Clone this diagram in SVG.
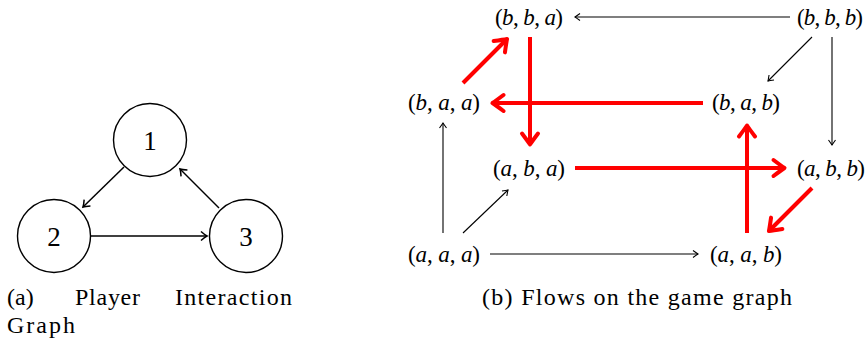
<svg xmlns="http://www.w3.org/2000/svg" width="868" height="341" viewBox="0 0 868 341">
<style>
text{font-family:"Liberation Serif","DejaVu Serif",serif;fill:#000}
.n{font-size:23px;text-anchor:middle}
.i{font-style:italic}
.d{font-size:27px;text-anchor:middle}
.cap{font-size:24px}
.node circle{fill:#fff;stroke:#000;stroke-width:1.4}
.k{stroke:#000;stroke-width:1.1;fill:none;marker-end:url(#ak)}
.k2{stroke:#000;stroke-width:1.5;fill:none;marker-end:url(#ak2)}
.r{stroke:#ff0000;stroke-width:4;fill:none;marker-end:url(#ar)}
</style>
<defs>
<marker id="ak" markerUnits="userSpaceOnUse" viewBox="-8 -6 10 12" markerWidth="10" markerHeight="12" refX="0" refY="0" orient="auto">
<path d="M-5,-3.5 Q-1.5,-1 0,0 Q-1.5,1 -5,3.5" fill="none" stroke="#000" stroke-width="1.1"/>
</marker>
<marker id="ak2" markerUnits="userSpaceOnUse" viewBox="-9 -7 11 14" markerWidth="11" markerHeight="14" refX="0" refY="0" orient="auto">
<path d="M-6,-4.5 Q-2,-1 0,0 Q-2,1 -6,4.5" fill="none" stroke="#000" stroke-width="1.5"/>
</marker>
<marker id="ar" markerUnits="userSpaceOnUse" viewBox="-15 -11 18 22" markerWidth="18" markerHeight="22" refX="-1.5" refY="0" orient="auto">
<path d="M-11,-8 Q-3,-2 0,0 Q-3,2 -11,8" fill="none" stroke="#ff0000" stroke-width="4" stroke-linecap="round" stroke-linejoin="round"/>
</marker>
</defs>

<!-- (a) Player interaction graph -->
<g id="connectors-a">
<line class="k2" x1="124" y1="167" x2="83" y2="207"/>
<line class="k2" x1="219" y1="208" x2="180" y2="169"/>
<line class="k2" x1="91" y1="236" x2="207" y2="236"/>
</g>
<g id="p1" class="node"><circle cx="150" cy="140" r="36.5"/><text class="d" x="150" y="149.5">1</text></g>
<g id="p2" class="node"><circle cx="54" cy="236" r="36.5"/><text class="d" x="54" y="245.5">2</text></g>
<g id="p3" class="node"><circle cx="246" cy="236" r="36.5"/><text class="d" x="246" y="245.5">3</text></g>
<g id="caption-a">
<text class="cap" x="7" y="305">(a)</text>
<text class="cap" x="75" y="305" textLength="65" lengthAdjust="spacing">Player</text>
<text class="cap" x="175" y="305" textLength="117" lengthAdjust="spacing">Interaction</text>
<text class="cap" x="7" y="333" textLength="68" lengthAdjust="spacing">Graph</text>
</g>

<!-- (b) Flows on the game graph -->
<g id="connectors-b">
<line class="k" x1="790" y1="17" x2="575" y2="17"/>
<line class="k" x1="812" y1="37" x2="768" y2="81"/>
<line class="k" x1="832" y1="37" x2="832" y2="145"/>
<line class="k" x1="443" y1="233" x2="443" y2="123"/>
<line class="k" x1="463" y1="233" x2="508" y2="190"/>
<line class="k" x1="490" y1="254" x2="698" y2="254"/>
<line class="r" x1="463" y1="83" x2="506" y2="40"/>
<line class="r" x1="703" y1="103" x2="494" y2="103"/>
<line class="r" x1="530" y1="37" x2="530" y2="143"/>
<line class="r" x1="575" y1="168" x2="783" y2="168"/>
<line class="r" x1="747" y1="233" x2="747" y2="127"/>
<line class="r" x1="812" y1="188" x2="770" y2="230"/>
</g>
<g id="bba"><text class="n" x="529" y="25" textLength="68" lengthAdjust="spacing">(<tspan class="i">b</tspan>, <tspan class="i">b</tspan>, <tspan class="i">a</tspan>)</text></g>
<g id="bbb"><text class="n" x="830" y="25" textLength="66" lengthAdjust="spacing">(<tspan class="i">b</tspan>, <tspan class="i">b</tspan>, <tspan class="i">b</tspan>)</text></g>
<g id="baa"><text class="n" x="444" y="110" textLength="72" lengthAdjust="spacing">(<tspan class="i">b</tspan>, <tspan class="i">a</tspan>, <tspan class="i">a</tspan>)</text></g>
<g id="bab"><text class="n" x="746" y="110" textLength="68" lengthAdjust="spacing">(<tspan class="i">b</tspan>, <tspan class="i">a</tspan>, <tspan class="i">b</tspan>)</text></g>
<g id="aba"><text class="n" x="529" y="176" textLength="72" lengthAdjust="spacing">(<tspan class="i">a</tspan>, <tspan class="i">b</tspan>, <tspan class="i">a</tspan>)</text></g>
<g id="abb"><text class="n" x="831" y="176" textLength="68" lengthAdjust="spacing">(<tspan class="i">a</tspan>, <tspan class="i">b</tspan>, <tspan class="i">b</tspan>)</text></g>
<g id="aaa"><text class="n" x="444" y="262" textLength="72" lengthAdjust="spacing">(<tspan class="i">a</tspan>, <tspan class="i">a</tspan>, <tspan class="i">a</tspan>)</text></g>
<g id="aab"><text class="n" x="746" y="262" textLength="72" lengthAdjust="spacing">(<tspan class="i">a</tspan>, <tspan class="i">a</tspan>, <tspan class="i">b</tspan>)</text></g>
<g id="caption-b">
<text class="cap" x="482" y="305" textLength="310" lengthAdjust="spacing">(b) Flows on the game graph</text>
</g>
</svg>
